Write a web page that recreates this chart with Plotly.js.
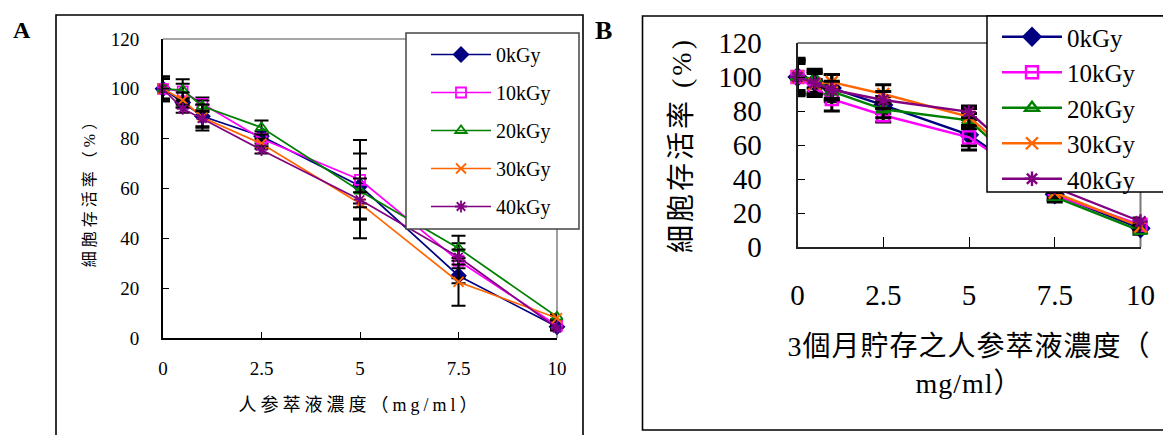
<!DOCTYPE html>
<html>
<head>
<meta charset="utf-8">
<script src="https://cdn.plot.ly/plotly-3.0.1.min.js"></script>
<style>
  html, body { margin: 0; padding: 0; background: #fff; }
  #chart { width: 1163px; height: 435px; }
  text.xtitle, text.ytitle { letter-spacing: 4px; }
  text.x2title { letter-spacing: 1px; }
  text.y2title { letter-spacing: 3px; }
</style>
</head>
<body>
<div id="chart"></div>
<script>
// ---------------- data ----------------
const concentration = [0, 0.5, 1, 2.5, 5, 7.5, 10];
const seriesNames = ['0kGy', '10kGy', '20kGy', '30kGy', '40kGy'];
const xTickVals = [0, 2.5, 5, 7.5, 10];
const xTickText = ['0', '2.5', '5', '7.5', '10'];
const yTickVals = [0, 20, 40, 60, 80, 100, 120];

// Panel A (fresh extract)
const a0kGy  = [100, 94.5, 89.0, 81.0, 61.0, 25.0, 4.5];
const a10kGy = [100, 99.0, 94.0, 80.0, 63.5, 31.0, 5.0];
const a20kGy = [100, 99.5, 93.0, 84.5, 59.0, 36.0, 8.5];
const a30kGy = [100, 95.5, 88.5, 78.0, 54.0, 22.5, 8.0];
const a40kGy = [100, 92.0, 88.0, 75.5, 55.5, 32.5, 4.0];
const a0Err  = [5, 2.0, 4.6, 2.0, 13, 3.0, 1.0];
const a10Err = [4, 3.0, 2.5, 2.0, 16, 7.0, 1.5];
const a20Err = [4, 4.3, 2.3, 2.8, 5, 5.0, 1.0];
const a30Err = [5, 3.0, 5.2, 2.0, 14, 9.6, 1.0];
const a40Err = [4, 1.6, 3.0, 1.5, 3, 3.0, 1.0];

// Panel B (extract stored 3 months)
const b0kGy  = [100, 97.0, 93.5, 83.5, 66.0, 31.0, 11.0];
const b10kGy = [100, 93.5, 87.0, 77.5, 64.5, 30.5, 13.0];
const b20kGy = [100, 99.0, 91.5, 81.0, 74.5, 29.5, 9.5];
const b30kGy = [100, 96.0, 97.0, 90.0, 76.5, 32.0, 12.0];
const b40kGy = [100, 96.5, 92.5, 86.5, 79.5, 35.0, 15.0];
const b0Err  = [10, 6.0, 8.0, 5.0, 9.0, 3, 2];
const b10Err = [8, 5.0, 7.0, 4.0, 5.0, 3, 2];
const b20Err = [9, 5.5, 5.0, 5.0, 4.0, 3, 2];
const b30Err = [11, 6.0, 4.5, 5.5, 5.0, 3, 2];
const b40Err = [10, 7.0, 5.0, 5.0, 3.5, 3, 2];

const titleA_x = '人参萃液濃度（mg/ml）';
const titleB_x = '3個月貯存之人参萃液濃度（<br>mg/ml）';
const titleA_y = '細胞存活率（%）';
const titleB_y = '細胞存活率 (%)';

// ---------------- styling ----------------
const W = 1163, H = 435;
const px = v => v / W;
const py = v => 1 - v / H;
const FONT = "Liberation Serif, Times New Roman, serif, Noto Sans CJK TC";

const colors  = ['#000080', '#FF00FF', '#008000', '#FF6600', '#800080'];
const symbols = ['diamond', 'square-open', 'triangle-up-open', 'x-thin-open', 'asterisk-open'];

const seriesA = [a0kGy, a10kGy, a20kGy, a30kGy, a40kGy];
const errA = [a0Err, a10Err, a20Err, a30Err, a40Err];
const seriesB = [b0kGy, b10kGy, b20kGy, b30kGy, b40kGy];
const errB = [b0Err, b10Err, b20Err, b30Err, b40Err];

const traces = [];
seriesA.forEach((ys, i) => {
  traces.push({
    type: 'scatter', mode: 'lines+markers',
    x: concentration, y: ys, name: seriesNames[i],
    xaxis: 'x', yaxis: 'y', legend: 'legend', legendgroup: 'a' + i,
    line: { color: colors[i], width: 1.7 },
    marker: { symbol: symbols[i], color: colors[i], size: i === 0 ? 11 : 10,
              line: { color: colors[i], width: 1.8 } },
    error_y: { type: 'data', array: errA[i], visible: true, color: '#000', thickness: 2, width: 7 },
    cliponaxis: false
  });
});
seriesB.forEach((ys, i) => {
  traces.push({
    type: 'scatter', mode: 'lines+markers',
    x: concentration, y: ys, name: seriesNames[i],
    xaxis: 'x2', yaxis: 'y2', legend: 'legend2', legendgroup: 'b' + i,
    line: { color: colors[i], width: 2.4 },
    marker: { symbol: symbols[i], color: colors[i], size: i === 0 ? 13 : 12,
              line: { color: colors[i], width: 2.4 } },
    error_y: { type: 'data', array: errB[i], visible: true, color: '#000', thickness: 3, width: 8 },
    cliponaxis: false
  });
});

const axisCommon = {
  showgrid: false, zeroline: false, showline: true,
  linecolor: '#000', ticks: 'inside', tickcolor: '#000',
  tickfont: { family: FONT, color: '#000' }
};

const layout = {
  width: W, height: H,
  margin: { l: 0, r: 0, t: 0, b: 0 },
  paper_bgcolor: '#fff', plot_bgcolor: 'rgba(0,0,0,0)',
  font: { family: FONT, color: '#000' },
  xaxis: Object.assign({}, axisCommon, {
    domain: [px(163), px(557)], anchor: 'y', range: [0, 10],
    tickvals: xTickVals, ticktext: xTickText, ticklen: 6, linewidth: 2,
    tickfont: { family: FONT, size: 19, color: '#000' }, ticklabelstandoff: 12,
    title: { text: titleA_x, font: { family: FONT, size: 18, color: '#000' }, standoff: 21 }
  }),
  yaxis: Object.assign({}, axisCommon, {
    domain: [py(338), py(39)], anchor: 'x', range: [0, 120],
    tickvals: yTickVals, ticklen: 6, linewidth: 2,
    tickfont: { family: FONT, size: 19, color: '#000' }, ticklabelstandoff: 18,
    title: { text: titleA_y, font: { family: FONT, size: 16, color: '#000' }, standoff: 11 }
  }),
  xaxis2: Object.assign({}, axisCommon, {
    domain: [px(797.5), px(1140.5)], anchor: 'y2', range: [0, 10],
    tickvals: xTickVals, ticktext: xTickText, ticklen: 10, linewidth: 2, linecolor: '#222',
    tickfont: { family: FONT, size: 29, color: '#000' }, ticklabelstandoff: 21,
    title: { text: titleB_x, font: { family: FONT, size: 28, color: '#000' }, standoff: 27 }
  }),
  yaxis2: Object.assign({}, axisCommon, {
    domain: [py(247), py(43)], anchor: 'x2', range: [0, 120],
    tickvals: yTickVals, ticklen: 7, linewidth: 2, linecolor: '#222',
    tickfont: { family: FONT, size: 29, color: '#000' }, ticklabelstandoff: 28,
    title: { text: titleB_y, font: { family: FONT, size: 28, color: '#000' }, standoff: 18 }
  }),
  legend: {
    x: px(426), y: py(35), xanchor: 'left', yanchor: 'top',
    bgcolor: 'rgba(0,0,0,0)', borderwidth: 0, itemwidth: 60, tracegroupgap: 9,
    font: { family: FONT, size: 20, color: '#000' }, itemclick: false, itemdoubleclick: false
  },
  legend2: {
    x: px(997), y: py(14), xanchor: 'left', yanchor: 'top',
    bgcolor: 'rgba(0,0,0,0)', borderwidth: 0, itemwidth: 60, tracegroupgap: 0,
    font: { family: FONT, size: 25, color: '#000' }, itemclick: false, itemdoubleclick: false
  },
  shapes: [
    // outer panel frames
    { type: 'rect', xref: 'paper', yref: 'paper', x0: px(56), x1: px(583), y0: py(445), y1: py(15),
      line: { color: '#000', width: 1.6 }, layer: 'below' },
    { type: 'rect', xref: 'paper', yref: 'paper', x0: px(642.5), x1: px(1180), y0: py(430), y1: py(16),
      line: { color: '#000', width: 1.6 }, layer: 'below' },
    // gray top/right plot frame
    { type: 'line', xref: 'x domain', yref: 'y domain', x0: 0, x1: 1, y0: 1, y1: 1, line: { color: '#888', width: 1.6 }, layer: 'below' },
    { type: 'line', xref: 'x domain', yref: 'y domain', x0: 1, x1: 1, y0: 0, y1: 1, line: { color: '#888', width: 1.6 }, layer: 'below' },
    { type: 'line', xref: 'x2 domain', yref: 'y2 domain', x0: 0, x1: 1, y0: 1, y1: 1, line: { color: '#777', width: 2 }, layer: 'below' },
    { type: 'line', xref: 'x2 domain', yref: 'y2 domain', x0: 1, x1: 1, y0: 0, y1: 1, line: { color: '#777', width: 2 }, layer: 'below' },
    // legend boxes
    { type: 'rect', xref: 'paper', yref: 'paper', x0: px(406), x1: px(579), y0: py(229), y1: py(33),
      line: { color: '#444', width: 1.5 }, fillcolor: '#fff', layer: 'above' },
    { type: 'rect', xref: 'paper', yref: 'paper', x0: px(987), x1: px(1180), y0: py(192), y1: py(16),
      line: { color: '#000', width: 1.5 }, fillcolor: '#fff', layer: 'above' }
  ],
  annotations: [
    { text: '<b>A</b>', xref: 'paper', yref: 'paper', x: px(22), y: py(30), showarrow: false,
      font: { family: FONT, size: 24, color: '#000' }, xanchor: 'center', yanchor: 'middle' },
    { text: '<b>B</b>', xref: 'paper', yref: 'paper', x: px(603), y: py(30), showarrow: false,
      font: { family: FONT, size: 26, color: '#000' }, xanchor: 'center', yanchor: 'middle' }
  ]
};

Plotly.newPlot('chart', traces, layout, { staticPlot: true, displayModeBar: false });
</script>
</body>
</html>
